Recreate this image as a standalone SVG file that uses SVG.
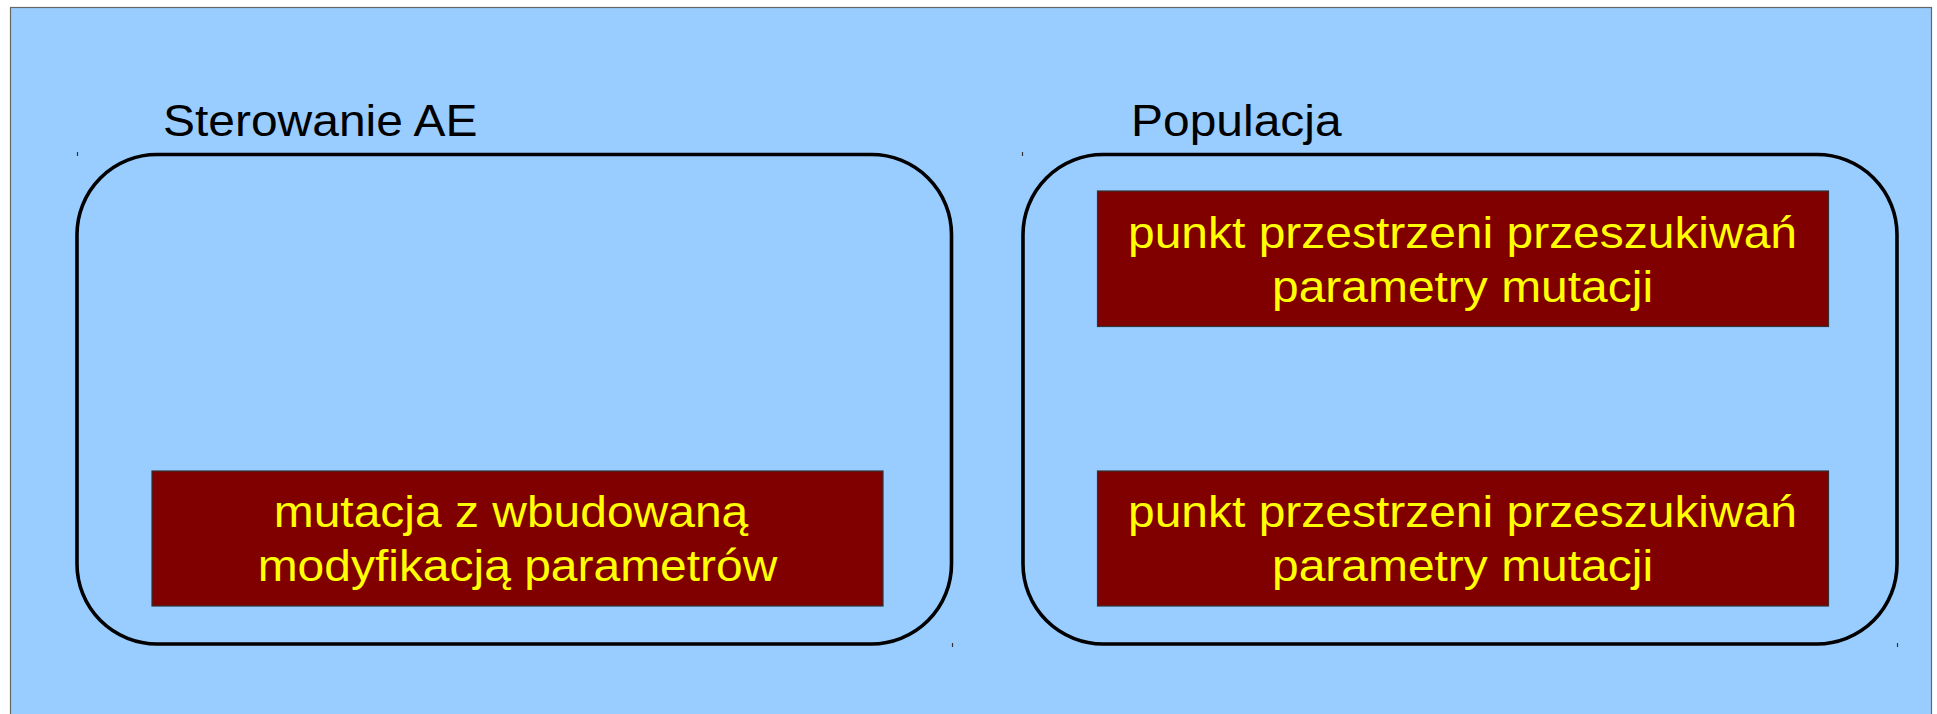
<svg xmlns="http://www.w3.org/2000/svg" width="1937" height="714" viewBox="0 0 1937 714">
  <style>
    .page { fill: #99ccff; stroke: #666666; stroke-width: 1.2; }
    .group { fill: none; stroke: #000000; stroke-width: 3.6; }
    .tick { stroke: #333333; stroke-width: 1.2; }
    .box { fill: #800000; stroke: #333333; stroke-width: 1.2; }
    .title { font-family: "Liberation Sans", Arial, sans-serif; font-size: 44px; fill: #000000; }
    .label { font-family: "Liberation Sans", Arial, sans-serif; font-size: 44px; fill: #ffff00; text-anchor: middle; }
  </style>

  <!-- background page -->
  <rect class="page" x="10.5" y="7.5" width="1921" height="720"/>

  <!-- controller container -->
  <g id="sterowanie">
    <rect class="group" x="77" y="154.5" width="874.5" height="489.5" rx="80" ry="80"/>
    <line class="tick" x1="77.5" y1="152" x2="77.5" y2="156"/>
    <line class="tick" x1="952.5" y1="643" x2="952.5" y2="647"/>
    <text class="title" transform="translate(163,136) scale(1.09,1)" x="0" y="0">Sterowanie AE</text>
  </g>

  <!-- population container -->
  <g id="populacja">
    <rect class="group" x="1023" y="154.5" width="874" height="489.5" rx="80" ry="80"/>
    <line class="tick" x1="1022.5" y1="152" x2="1022.5" y2="156"/>
    <line class="tick" x1="1897.5" y1="643" x2="1897.5" y2="647"/>
    <text class="title" transform="translate(1131,136) scale(1.09,1)" x="0" y="0">Populacja</text>
  </g>

  <!-- mutation operator -->
  <g id="mutacja">
    <rect class="box" x="152" y="471" width="731" height="135"/>
    <g transform="translate(511,0) scale(1.09,1)">
      <text class="label" x="0" y="527.5">mutacja z wbudowaną</text>
    </g>
    <g transform="translate(517.5,0) scale(1.09,1)">
      <text class="label" x="0" y="581">modyfikacją parametrów</text>
    </g>
  </g>

  <!-- individual 1 -->
  <g id="osobnik1">
    <rect class="box" x="1097.5" y="191" width="731" height="135.5"/>
    <g transform="translate(1462.5,0) scale(1.09,1)">
      <text class="label" x="0" y="248.5">punkt przestrzeni przeszukiwań</text>
      <text class="label" x="0" y="302">parametry mutacji</text>
    </g>
  </g>

  <!-- individual 2 -->
  <g id="osobnik2">
    <rect class="box" x="1097.5" y="471" width="731" height="135"/>
    <g transform="translate(1462.5,0) scale(1.09,1)">
      <text class="label" x="0" y="527.5">punkt przestrzeni przeszukiwań</text>
      <text class="label" x="0" y="581">parametry mutacji</text>
    </g>
  </g>

  <!-- no connectors in this diagram -->
  <g id="connectors"/>
</svg>
